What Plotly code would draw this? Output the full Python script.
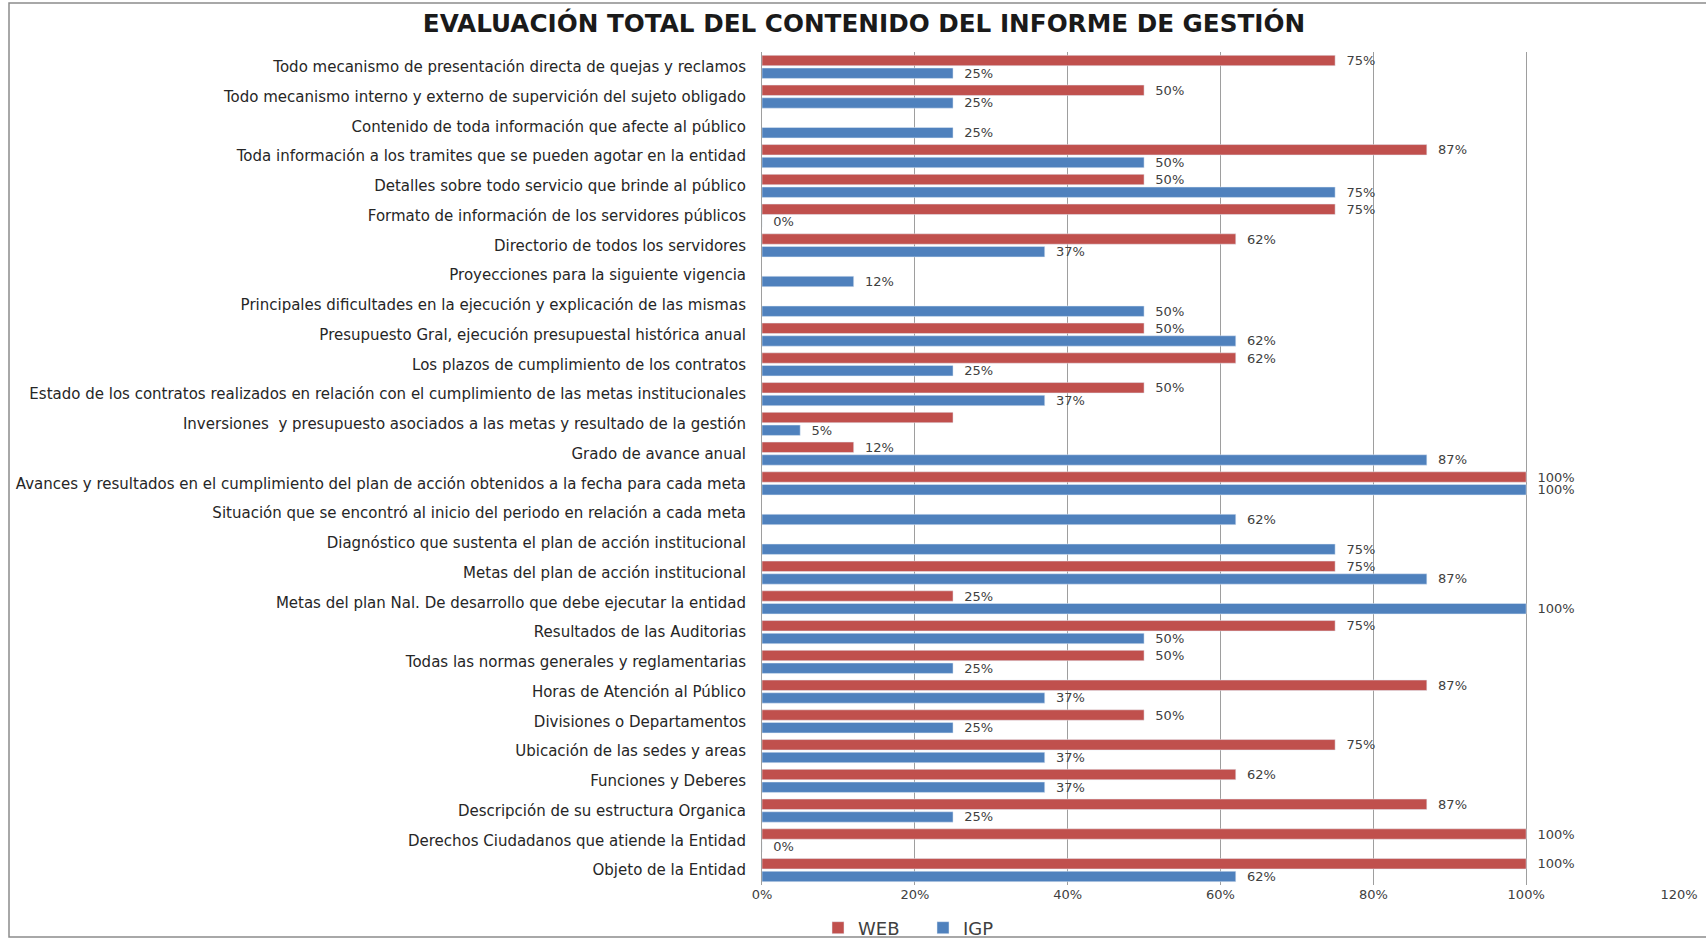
import plotly.graph_objects as go

categories = [
    "Todo mecanismo de presentación directa de quejas y reclamos",
    "Todo mecanismo interno y externo de supervición del sujeto obligado",
    "Contenido de toda información que afecte al público",
    "Toda información a los tramites que se pueden agotar en la entidad",
    "Detalles sobre todo servicio que brinde al público",
    "Formato de información de los servidores públicos",
    "Directorio de todos los servidores",
    "Proyecciones para la siguiente vigencia",
    "Principales dificultades en la ejecución y explicación de las mismas",
    "Presupuesto Gral, ejecución presupuestal histórica anual",
    "Los plazos de cumplimiento de los contratos",
    "Estado de los contratos realizados en relación con el cumplimiento de las metas institucionales",
    "Inversiones  y presupuesto asociados a las metas y resultado de la gestión",
    "Grado de avance anual",
    "Avances y resultados en el cumplimiento del plan de acción obtenidos a la fecha para cada meta",
    "Situación que se encontró al inicio del periodo en relación a cada meta",
    "Diagnóstico que sustenta el plan de acción institucional",
    "Metas del plan de acción institucional",
    "Metas del plan Nal. De desarrollo que debe ejecutar la entidad",
    "Resultados de las Auditorias",
    "Todas las normas generales y reglamentarias",
    "Horas de Atención al Público",
    "Divisiones o Departamentos",
    "Ubicación de las sedes y areas",
    "Funciones y Deberes",
    "Descripción de su estructura Organica",
    "Derechos Ciudadanos que atiende la Entidad",
    "Objeto de la Entidad",
]

web = [75, 50, None, 87, 50, 75, 62, None, None, 50, 62, 50, 25, 12,
       100, None, None, 75, 25, 75, 50, 87, 50, 75, 62, 87, 100, 100]
igp = [25, 25, 25, 50, 75, 0, 37, 12, 50, 62, 25, 37, 5, 87,
       100, 62, 75, 87, 100, 50, 25, 37, 25, 37, 37, 25, 0, 62]

# WEB bar drawn without a data label in the reference
web_unlabelled = ["Inversiones  y presupuesto asociados a las metas y resultado de la gestión"]

x_ticks = [0, 20, 40, 60, 80, 100, 120]
x_tick_labels = ["0%", "20%", "40%", "60%", "80%", "100%", "120%"]

PAD = "\u00a0\u00a0"
web_text = ["" if (v is None or c in web_unlabelled) else f"{PAD}{v}%" for c, v in zip(categories, web)]
igp_text = ["" if v is None else f"{PAD}{v}%" for v in igp]

RED = "#C0504D"
BLUE = "#4F81BD"
TXT = "#404040"
FONT = "DejaVu Sans"

W, H = 1706, 943
ML, MR, MT, MB = 762, 27, 52, 58

fig = go.Figure()
fig.add_trace(go.Bar(
    y=categories, x=web, name="WEB", orientation="h",
    marker=dict(color=RED), text=web_text, textposition="outside",
    constraintext="none", cliponaxis=False,
    textfont=dict(family=FONT, size=13, color=TXT), hoverinfo="x+y",
))
fig.add_trace(go.Bar(
    y=categories, x=igp, name="IGP", orientation="h",
    marker=dict(color=BLUE), text=igp_text, textposition="outside",
    constraintext="none", cliponaxis=False,
    textfont=dict(family=FONT, size=13, color=TXT), hoverinfo="x+y",
))

pw = W - ML - MR
ph = H - MT - MB
fig.add_shape(type="rect", xref="paper", yref="paper",
              x0=(9 - ML) / pw, x1=(1712 - ML) / pw,
              y0=-(937 - (H - MB)) / ph, y1=1 + (MT - 3) / ph,
              line=dict(color="#8c8c8c", width=1.5), layer="below")

fig.update_layout(
    width=W, height=H,
    margin=dict(l=ML, r=MR, t=MT, b=MB, autoexpand=False),
    paper_bgcolor="white", plot_bgcolor="white",
    barmode="group", bargap=0.146, bargroupgap=0.18,
    title=dict(text="EVALUACIÓN TOTAL DEL CONTENIDO DEL INFORME DE GESTIÓN",
               font=dict(family=FONT, size=24.7, color="#1a1a1a", weight="bold"),
               x=864 / W, xref="container", xanchor="center",
               y=1 - 23 / H, yref="container", yanchor="middle"),
    xaxis=dict(range=[0, 120], tickvals=x_ticks, ticktext=x_tick_labels,
               showgrid=True, gridcolor="#9e9e9e", gridwidth=1,
               zeroline=False, showline=False, ticks="",
               tickfont=dict(family=FONT, size=13, color=TXT)),
    yaxis=dict(autorange="reversed", showgrid=False, zeroline=False,
               showline=True, linecolor="#9e9e9e", linewidth=1, ticks="",
               ticklabelstandoff=12,
               tickfont=dict(family=FONT, size=15, color="#262626")),
    legend=dict(orientation="h", x=(818 - ML) / pw, xanchor="left",
                y=-(928 - (H - MB)) / ph, yanchor="middle",
                bgcolor="rgba(0,0,0,0)",
                font=dict(family=FONT, size=18, color=TXT),
                itemwidth=30, entrywidth=60, traceorder="normal"),
    showlegend=True,
)

fig.write_html("out.html", config={"displayModeBar": False},
               post_script="document.body.style.margin='0';")
